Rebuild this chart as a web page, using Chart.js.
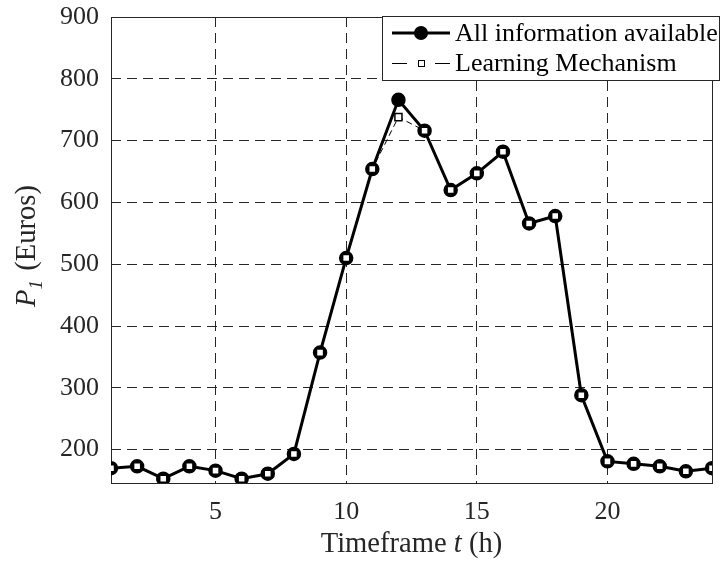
<!DOCTYPE html>
<html>
<head>
<meta charset="utf-8">
<script src="https://cdn.jsdelivr.net/npm/chart.js@4.4.1/dist/chart.umd.min.js"></script>
<style>
  html, body { margin: 0; padding: 0; background: #fff; }
  #plot { display: block; }
</style>
</head>
<body>
<canvas id="plot" width="721" height="561"></canvas>
<script>
// hourly price P1 over one day
const hours = [1, 2, 3, 4, 5, 6, 7, 8, 9, 10, 11, 12, 13, 14, 15, 16, 17, 18, 19, 20, 21, 22, 23, 24]
const allInfo = [170, 173, 153, 173, 166, 153, 161, 193, 357, 510, 654, 766, 716, 620, 647, 682, 566, 578, 288, 181, 177, 173, 165, 170]
const learning = [170, 173, 153, 173, 166, 153, 161, 193, 357, 510, 654, 738, 716, 620, 647, 682, 566, 578, 288, 181, 177, 173, 165, 170]
const xTicks = [5, 10, 15, 20]
const yTicks = [200, 300, 400, 500, 600, 700, 800, 900]

const SERIF = "'Liberation Serif', 'Times New Roman', serif"
const INK = '#262626'

const toPoints = vals => hours.map((h, i) => ({ x: h, y: vals[i] }))

// solid frame around the plot area (drawn under the markers)
const frame = {
  id: 'frame',
  beforeDatasetsDraw(chart) {
    const { ctx, chartArea: a } = chart
    ctx.save()
    ctx.strokeStyle = INK
    ctx.lineWidth = 1
    ctx.strokeRect(a.left + 0.5, a.top + 0.5, a.right - a.left, a.bottom - a.top)
    ctx.restore()
  }
}

// axis titles with italic symbols
const titles = {
  id: 'titles',
  afterDraw(chart) {
    const { ctx, chartArea: a } = chart
    ctx.save()
    ctx.fillStyle = INK
    ctx.textBaseline = 'alphabetic'

    // x title: Timeframe t (h)
    const parts = [
      { t: 'Timeframe ', f: `28.6px ${SERIF}` },
      { t: 't', f: `italic 28.6px ${SERIF}` },
      { t: ' (h)', f: `28.6px ${SERIF}` }
    ]
    let w = 0
    parts.forEach(p => { ctx.font = p.f; p.w = ctx.measureText(p.t).width; w += p.w })
    let x = (a.left + a.right) / 2 - w / 2
    parts.forEach(p => { ctx.font = p.f; ctx.fillText(p.t, x, 552); x += p.w })

    // y title: P_1 (Euros)
    ctx.translate(35, (a.top + a.bottom) / 2 - 3)
    ctx.rotate(-Math.PI / 2)
    const yp = [
      { t: 'P', f: `italic 28.6px ${SERIF}`, dy: 0 },
      { t: '1', f: `italic 19px ${SERIF}`, dy: 7 },
      { t: ' (Euros)', f: `28.6px ${SERIF}`, dy: 0 }
    ]
    w = 0
    yp.forEach(p => { ctx.font = p.f; p.w = ctx.measureText(p.t).width; w += p.w })
    x = -w / 2
    yp.forEach(p => { ctx.font = p.f; ctx.fillText(p.t, x, p.dy); x += p.w + (p.t === '1' ? 2 : 0) })
    ctx.restore()
  }
}

// boxed legend in the top right corner
const legendBox = {
  id: 'legendBox',
  afterDraw(chart) {
    const { ctx, chartArea: a } = chart
    const left = a.left + 271, top = a.top - 1, right = a.right + 7, bottom = a.top + 63
    ctx.save()
    ctx.fillStyle = '#fff'
    ctx.fillRect(left, top, right - left, bottom - top)
    ctx.strokeStyle = INK
    ctx.lineWidth = 1
    ctx.strokeRect(left + 0.5, top + 0.5, right - left, bottom - top)

    const x0 = left + 10, x1 = left + 68, xm = (x0 + x1) / 2
    const r1 = top + 17, r2 = top + 47

    ctx.strokeStyle = '#000'
    ctx.lineWidth = 3
    ctx.beginPath(); ctx.moveTo(x0, r1); ctx.lineTo(x1, r1); ctx.stroke()
    ctx.fillStyle = '#000'
    ctx.beginPath(); ctx.arc(xm, r1, 7, 0, Math.PI * 2); ctx.fill()

    ctx.lineWidth = 1
    ctx.beginPath()
    ctx.moveTo(x0, r2 + 0.5); ctx.lineTo(x0 + 15, r2 + 0.5)
    ctx.moveTo(x1 - 15, r2 + 0.5); ctx.lineTo(x1, r2 + 0.5)
    ctx.stroke()
    ctx.fillStyle = '#fff'
    ctx.fillRect(xm - 3, r2 - 3, 7, 7)
    ctx.strokeRect(xm - 2.5, r2 - 2.5, 6, 6)

    ctx.fillStyle = '#000'
    ctx.font = `26px ${SERIF}`
    ctx.textBaseline = 'middle'
    ctx.fillText(chart.data.datasets[1].label, x1 + 5, r1 + 1)
    ctx.fillText(chart.data.datasets[0].label, x1 + 5, r2 + 1)
    ctx.restore()
  }
}

new Chart(document.getElementById('plot'), {
  type: 'line',
  data: {
    datasets: [
      {
        // drawn on top of the circles
        label: 'Learning Mechanism',
        data: toPoints(learning),
        borderColor: '#000',
        borderWidth: 1,
        borderDash: [6, 4],
        pointStyle: 'rect',
        pointRadius: 5,
        pointBackgroundColor: '#fff',
        pointBorderColor: '#000',
        pointBorderWidth: 1.5,
        tension: 0
      },
      {
        label: 'All information available',
        data: toPoints(allInfo),
        borderColor: '#000',
        borderWidth: 3,
        pointStyle: 'circle',
        pointRadius: 6,
        pointBackgroundColor: '#000',
        pointBorderColor: '#000',
        pointBorderWidth: 2.5,
        tension: 0
      }
    ]
  },
  options: {
    responsive: false,
    devicePixelRatio: 1,
    animation: false,
    layout: { padding: { top: 17, right: 9, left: 0, bottom: 0 } },
    plugins: {
      legend: { display: false },
      tooltip: { enabled: false }
    },
    scales: {
      x: {
        type: 'linear',
        min: 1,
        max: 24,
        afterBuildTicks: s => { s.ticks = xTicks.map(v => ({ value: v })) },
        afterFit: s => { s.height = 78; s.paddingLeft = 0; s.paddingRight = 0 },
        grid: { color: INK, lineWidth: 1, drawTicks: false },
        border: { display: false, dash: [10, 6] },
        ticks: { color: INK, padding: 14, font: { family: SERIF, size: 26 } }
      },
      y: {
        type: 'linear',
        min: 146,
        max: 900,
        afterBuildTicks: s => { s.ticks = yTicks.map(v => ({ value: v })) },
        // keep the 900 label from pushing the plot area down
        afterFit: s => { s.width = 111; s.paddingTop = 0; s.paddingBottom = 0 },
        grid: { color: INK, lineWidth: 1, drawTicks: false },
        border: { display: false, dash: [10, 6] },
        ticks: { color: INK, padding: 12, font: { family: SERIF, size: 26 } }
      }
    }
  },
  plugins: [frame, titles, legendBox]
})
</script>
</body>
</html>
